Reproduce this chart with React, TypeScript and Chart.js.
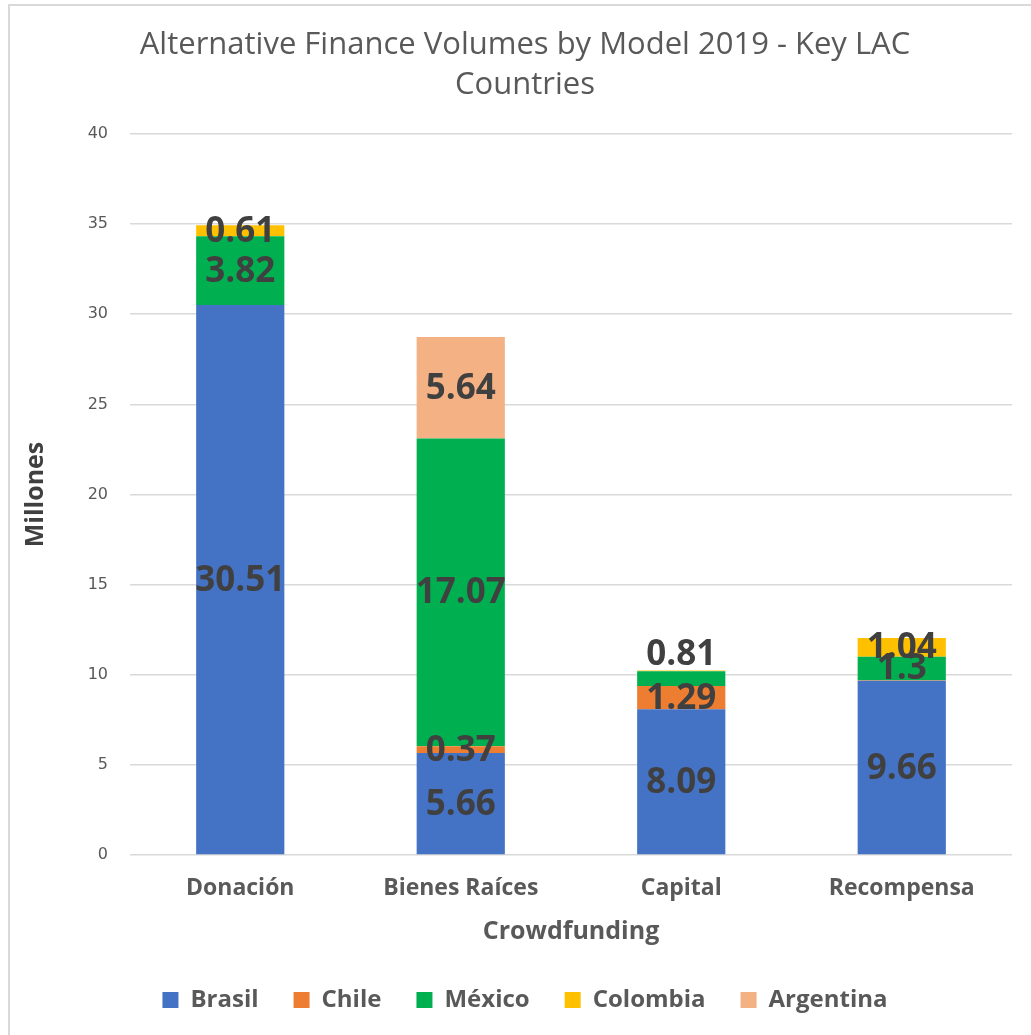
import React, { useEffect, useRef } from "react";
import { Chart, registerables } from "chart.js";

Chart.register(...registerables);

const titleLines = ["Alternative Finance Volumes by Model 2019 - Key LAC", "Countries"];
const categories = ["Donación", "Bienes Raíces", "Capital", "Recompensa"];
const seriesNames = ["Brasil", "Chile", "México", "Colombia", "Argentina"];
const brasil = [30.51, 5.66, 8.09, 9.66];
const chile = [0, 0.37, 1.29, 0.04];
const mexico = [3.82, 17.07, 0.81, 1.3];
const colombia = [0.61, 0, 0.05, 1.04];
const argentina = [0, 5.64, 0, 0];
const seriesColors = ["#4472C4", "#ED7D31", "#00B050", "#FFC000", "#F4B183"];
const yMin = 0;
const yMax = 40;
const yStep = 5;
const yTitle = "Millones";
const xTitle = "Crowdfunding";
// labels placed above the stack (series, category)
const labelsAbove = [["México", "Capital"]];
const minLabelValue = 0.1;

const valueLabels = {
  id: "valueLabels",
  afterDatasetsDraw(chart: any) {
    const ctx = chart.ctx;
    ctx.save();
    ctx.font = "bold 35px 'Open Sans'";
    ctx.fillStyle = "#404040";
    ctx.textAlign = "center";
    chart.data.datasets.forEach((ds: any, i: number) => {
      const meta = chart.getDatasetMeta(i);
      meta.data.forEach((bar: any, j: number) => {
        const v = ds.data[j];
        if (!v || v < minLabelValue) return;
        const above = labelsAbove.some(
          (p) => p[0] === ds.label && p[1] === chart.data.labels[j]
        );
        if (above) {
          let top = Infinity;
          chart.data.datasets.forEach((d2: any, k: number) => {
            if (d2.data[j] > 0) {
              const el = chart.getDatasetMeta(k).data[j];
              top = Math.min(top, el.y);
            }
          });
          ctx.textBaseline = "bottom";
          ctx.fillText(String(v), bar.x, top + 2);
        } else {
          ctx.textBaseline = "middle";
          ctx.fillText(String(v), bar.x, (bar.y + bar.base) / 2 + 1);
        }
      });
    });
    ctx.restore();
  },
};

export default function App() {
  const ref = useRef<HTMLCanvasElement | null>(null);
  useEffect(() => {
    if (!ref.current) return;
    const series = [brasil, chile, mexico, colombia, argentina];
    const chart = new Chart(ref.current, {
      type: "bar",
      data: {
        labels: categories,
        datasets: seriesNames.map((name, i) => ({
          label: name,
          data: series[i],
          backgroundColor: seriesColors[i],
          borderWidth: 0,
          categoryPercentage: 1,
          barPercentage: 0.4,
        })),
      },
      options: {
        responsive: false,
        animation: false,
        devicePixelRatio: 1,
        layout: { padding: { left: 28, right: 19, top: 0, bottom: 13 } },
        plugins: {
          tooltip: { enabled: false },
          title: {
            display: true,
            text: titleLines,
            color: "#595959",
            font: { family: "'Open Sans'", size: 31, weight: "normal", lineHeight: 1.29 },
            padding: { top: 19, bottom: 29 },
          },
          legend: {
            position: "bottom",
            labels: {
              color: "#595959",
              font: { family: "'Open Sans'", size: 24, weight: "bold" },
              boxWidth: 16,
              boxHeight: 16,
              padding: 35,
            },
          },
        },
        scales: {
          x: {
            stacked: true,
            grid: { display: false, drawTicks: false },
            border: { display: false },
            ticks: {
              color: "#595959",
              font: { family: "'Open Sans'", size: 23, weight: "bold" },
              padding: 20,
            },
            title: {
              display: true,
              text: xTitle,
              color: "#595959",
              font: { family: "'Open Sans'", size: 25, weight: "bold" },
              padding: { top: 0, bottom: 6 },
            },
            afterFit: (s: any) => {
              s.height = 98;
            },
          },
          y: {
            stacked: true,
            min: yMin,
            max: yMax,
            grid: { color: "#d9d9d9", lineWidth: 1.5, drawTicks: false },
            border: { display: false },
            ticks: {
              stepSize: yStep,
              color: "#595959",
              font: { family: "'DejaVu Sans'", size: 16 },
              padding: 22,
            },
            title: {
              display: true,
              text: yTitle,
              color: "#404040",
              font: { family: "'Open Sans'", size: 25, weight: "bold" },
              padding: { top: -17, bottom: 0 },
            },
            afterFit: (s: any) => {
              s.width = 92;
            },
          },
        },
      },
      plugins: [valueLabels],
    } as any);
    return () => chart.destroy();
  }, []);

  return (
    <div
      style={{
        position: "fixed",
        left: 8,
        top: 4,
        width: 1040,
        height: 1040,
        borderLeft: "2px solid #d9d9d9",
        borderTop: "2px solid #d9d9d9",
        background: "#fff",
      }}
    >
      <canvas
        ref={ref}
        width={1021}
        height={1029}
        style={{ position: "absolute", left: 0, top: 0, display: "block" }}
      />
    </div>
  );
}
